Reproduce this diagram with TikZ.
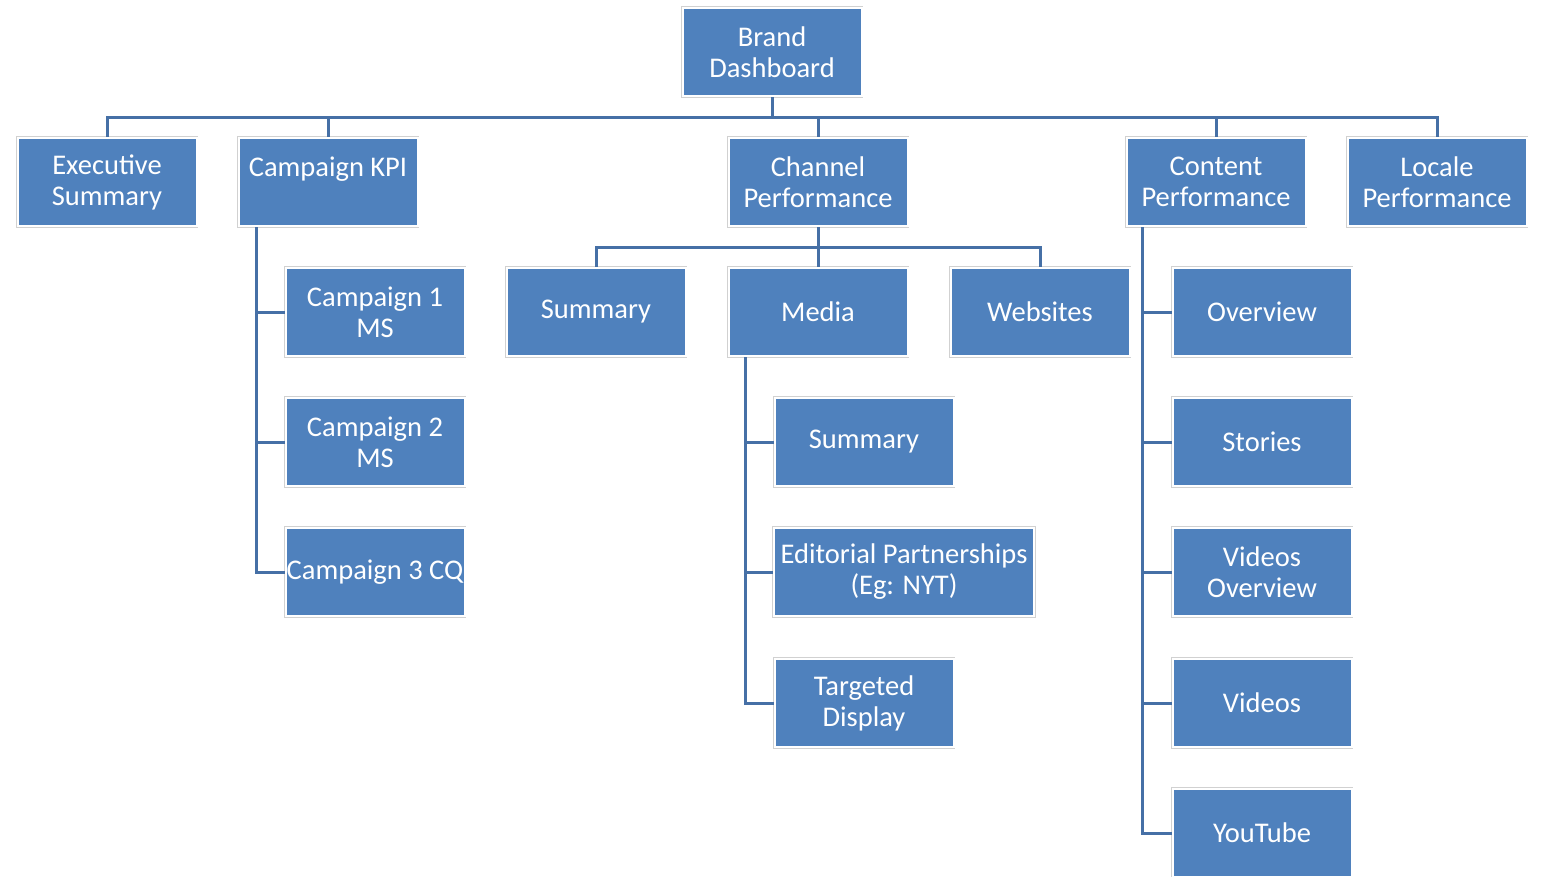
\documentclass[tikz,border=0pt]{standalone}
\usepackage{fontspec}
\setmainfont{Carlito}
\usetikzlibrary{calc}
\definecolor{boxblue}{HTML}{4F81BD}
\definecolor{lineblue}{HTML}{4670A6}
\tikzset{
  box/.style={fill=boxblue, draw=white, line width=2pt,
    preaction={draw=black!18, line width=3.6pt},
    minimum width=179pt, minimum height=88pt, inner sep=1pt,
    text=white, align=center, font=\fontsize{28.5}{31}\selectfont},
  conn/.style={draw=lineblue, line width=3pt},
}

\begin{document}
\begin{tikzpicture}[x=1pt,y=-1pt]
  \useasboundingbox (0,0) rectangle (1542,876);
  % top
  \node[box] (brand) at (772,52) {Brand\\Dashboard};
  % first level
  \node[box] (exec)    at (107,182)  {Executive\\Summary};
  \node[box] (kpi)     at (328,182)  {Campaign KPI\\\mbox{}};
  \node[box] (channel) at (818,182)  {Channel\\Performance};
  \node[box] (content) at (1216,182) {Content\\Performance};
  \node[box] (locale)  at (1437,182) {Locale\\Performance};
  \foreach \n in {exec,kpi,channel,content,locale}
    \draw[conn] (brand.south) -- ++(0,20) -| (\n.north);
  % campaign KPI
  \node[box] (camp1) at (375,312) {Campaign 1\\MS};
  \node[box] (camp2) at (375,442) {Campaign 2\\MS};
  \node[box] (camp3) at (375,572) {Campaign 3 CQ};
  \foreach \n in {camp1,camp2,camp3}
    \draw[conn] ([xshift=-72pt]kpi.south) |- (\n.west);
  % channel performance
  \node[box] (chsum) at (596,312)  {Summary};
  \node[box] (media) at (818,312)  {Media};
  \node[box] (web)   at (1040,312) {Websites};
  \foreach \n in {chsum,media,web}
    \draw[conn] (channel.south) -- ++(0,20) -| (\n.north);
  % media
  \node[box] (msum)  at (864,442) {Summary};
  \node[box, minimum width=260pt] (edit) at (904,572) {Editorial Partnerships\\(Eg: NYT)};
  \node[box] (disp)  at (864,703) {Targeted\\Display};
  \foreach \n in {msum,edit,disp}
    \draw[conn] ([xshift=-73pt]media.south) |- (\n.west);
  % content performance
  \node[box] (over)   at (1262,312) {Overview};
  \node[box] (story)  at (1262,442) {Stories};
  \node[box] (vover)  at (1262,572) {Videos\\Overview};
  \node[box] (vids)   at (1262,703) {Videos};
  \node[box] (yt)     at (1262,833) {YouTube};
  \foreach \n in {over,story,vover,vids,yt}
    \draw[conn] ([xshift=-74pt]content.south) |- (\n.west);
\end{tikzpicture}
\end{document}
